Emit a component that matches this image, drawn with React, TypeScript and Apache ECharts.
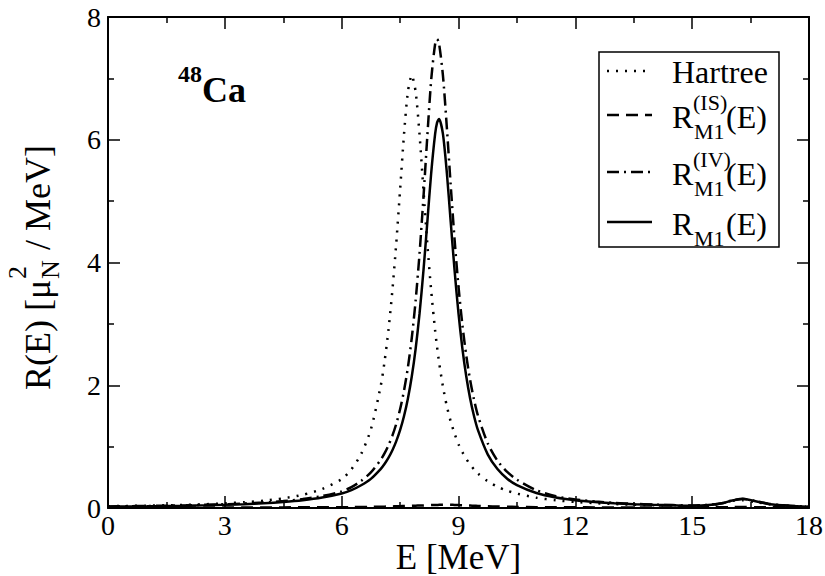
import React, { useEffect, useRef } from "react";
import * as echarts from "echarts";

// Energy grid (MeV)
const energy = [
  0, 0.5, 1, 1.5, 2, 2.5, 3, 3.5, 4, 4.5, 5, 5.5, 6, 6.25, 6.5, 6.75,
  7.0, 7.1, 7.2, 7.3, 7.4, 7.5, 7.6, 7.7, 7.8, 7.9, 8.0, 8.1, 8.2, 8.3, 8.4, 8.45,
  8.5, 8.6, 8.7, 8.8, 8.9, 9.0, 9.1, 9.2, 9.3, 9.4, 9.5, 9.75, 10, 10.25, 10.5,
  11, 11.5, 12, 12.5, 13, 13.5, 14, 14.5, 15, 15.5, 15.8, 16.0, 16.3, 16.6, 17, 17.5, 18,
];

// Hartree (dotted)
const hartree = [
  0.029, 0.033, 0.038, 0.044, 0.052, 0.062, 0.076, 0.094, 0.12, 0.158, 0.215, 0.31, 0.47, 0.63, 0.88, 1.28,
  1.98, 2.38, 2.89, 3.53, 4.3, 5.18, 6.08, 6.78, 7.05, 6.78, 6.08, 5.18, 4.3, 3.53, 2.89, 2.62,
  2.38, 1.98, 1.66, 1.41, 1.21, 1.04, 0.91, 0.8, 0.705, 0.627, 0.561, 0.435, 0.346, 0.282, 0.234,
  0.168, 0.126, 0.099, 0.079, 0.065, 0.054, 0.046, 0.039, 0.034, 0.05, 0.08, 0.115, 0.125, 0.1, 0.06, 0.035, 0.02,
];

// R_M1^(IS)(E) (dashed)
const rIS = [
  0.01, 0.01, 0.01, 0.01, 0.01, 0.01, 0.01, 0.01, 0.01, 0.01, 0.011, 0.012, 0.013, 0.014, 0.016, 0.018,
  0.02, 0.022, 0.024, 0.026, 0.028, 0.03, 0.032, 0.034, 0.036, 0.038, 0.04, 0.042, 0.045, 0.047, 0.049, 0.05,
  0.051, 0.052, 0.053, 0.052, 0.05, 0.048, 0.045, 0.042, 0.039, 0.036, 0.034, 0.028, 0.024, 0.02, 0.018,
  0.014, 0.012, 0.011, 0.01, 0.01, 0.01, 0.01, 0.01, 0.01, 0.011, 0.013, 0.015, 0.016, 0.014, 0.012, 0.01, 0.01,
];

// R_M1^(IV)(E) (dash-dot)
const rIV = [
  0.025, 0.029, 0.033, 0.038, 0.044, 0.052, 0.061, 0.074, 0.09, 0.113, 0.145, 0.195, 0.27, 0.34, 0.44, 0.58,
  0.784, 0.89, 1.019, 1.175, 1.367, 1.608, 1.91, 2.287, 2.77, 3.383, 4.147, 5.06, 6.063, 6.986, 7.56, 7.64,
  7.57, 7.05, 6.206, 5.258, 4.368, 3.605, 2.981, 2.48, 2.08, 1.761, 1.504, 1.054, 0.772, 0.588, 0.462,
  0.29, 0.19, 0.14, 0.105, 0.083, 0.068, 0.056, 0.047, 0.04, 0.055, 0.083, 0.121, 0.149, 0.117, 0.065, 0.037, 0.02,
];

// R_M1(E) (solid)
const rM1 = [
  0.022, 0.025, 0.028, 0.032, 0.037, 0.044, 0.052, 0.063, 0.077, 0.098, 0.127, 0.17, 0.235, 0.29, 0.37, 0.475,
  0.634, 0.717, 0.817, 0.938, 1.086, 1.268, 1.495, 1.781, 2.142, 2.598, 3.17, 3.866, 4.662, 5.466, 6.096, 6.28,
  6.34, 6.096, 5.466, 4.662, 3.866, 3.17, 2.598, 2.142, 1.781, 1.495, 1.268, 0.874, 0.634, 0.478, 0.373,
  0.244, 0.171, 0.127, 0.098, 0.077, 0.063, 0.052, 0.044, 0.037, 0.052, 0.08, 0.118, 0.146, 0.114, 0.062, 0.035, 0.018,
];

const FONT = "Liberation Serif";

const DOT = [2, 7];
const DASH = [12, 7];
const DASHDOT = [12, 5, 2, 5];

function pairs(arr: number[]) {
  return energy.map((e, i) => [e, arr[i]]);
}

function axisCommon(showLabels: boolean) {
  return {
    axisLine: { show: true, onZero: false, lineStyle: { color: "#000", width: 2 } },
    axisTick: { show: true, inside: true, length: 12, lineStyle: { color: "#000", width: 1.5 } },
    minorTick: { show: true, splitNumber: 2, length: 6, lineStyle: { color: "#000", width: 1.5 } },
    splitLine: { show: false },
    minorSplitLine: { show: false },
    axisLabel: {
      show: showLabels,
      color: "#000",
      fontSize: 28,
      fontFamily: FONT,
    },
  };
}

export default function App() {
  const ref = useRef<HTMLDivElement>(null);

  useEffect(() => {
    document.body.style.margin = "0";
    const chart = echarts.init(ref.current!, undefined, { renderer: "svg" });

    const lx1 = 607;
    const lx2 = 652;
    const tx = 672;
    const rows = [71, 115, 172, 222];

    const legendLine = (y: number, dash: number[] | null) => ({
      type: "line",
      shape: { x1: lx1, y1: y, x2: lx2, y2: y },
      style: { stroke: "#000", lineWidth: 2.5, lineDash: dash || undefined },
    });
    const txt = (x: number, y: number, text: string, size: number, bold = false) => ({
      type: "text",
      x,
      y,
      style: {
        text,
        fill: "#000",
        fontFamily: FONT,
        fontSize: size,
        fontWeight: bold ? "bold" : "normal",
        verticalAlign: "middle",
        align: "left",
      },
    });

    const rLabel = (y: number, sup: string | null) => {
      const els: any[] = [
        txt(tx, y + 2, "R", 32),
        txt(tx + 22, y + 16, "M1", 22),
        txt(tx + 54, y + 2, "(E)", 32),
      ];
      if (sup) els.push(txt(tx + 21, y - 13, sup, 22));
      return els;
    };

    chart.setOption({
      animation: false,
      textStyle: { fontFamily: FONT },
      grid: {
        left: 108,
        right: 16,
        top: 17,
        bottom: 68,
        containLabel: false,
        outerBoundsMode: "none",
      },
      xAxis: [
        {
          type: "value",
          min: 0,
          max: 18,
          interval: 3,
          position: "bottom",
          ...axisCommon(true),
          axisLabel: { ...axisCommon(true).axisLabel, margin: 3 },
          name: "E [MeV]",
          nameLocation: "middle",
          nameGap: 32,
          nameMoveOverlap: false,
          nameTextStyle: { color: "#000", fontSize: 35, fontFamily: FONT },
        },
        {
          type: "value",
          min: 0,
          max: 18,
          interval: 3,
          position: "top",
          ...axisCommon(false),
        },
      ],
      yAxis: [
        {
          type: "value",
          min: 0,
          max: 8,
          interval: 2,
          position: "left",
          ...axisCommon(true),
          axisLabel: { ...axisCommon(true).axisLabel, margin: 7 },
        },
        {
          type: "value",
          min: 0,
          max: 8,
          interval: 2,
          position: "right",
          ...axisCommon(false),
        },
      ],
      series: [
        {
          name: "Hartree",
          type: "line",
          data: pairs(hartree),
          showSymbol: false,
          smooth: 0.25,
          lineStyle: { color: "#000", width: 2.5, type: DOT, cap: "butt" },
        },
        {
          name: "R_M1^(IS)(E)",
          type: "line",
          data: pairs(rIS),
          showSymbol: false,
          smooth: 0.25,
          lineStyle: { color: "#000", width: 2.5, type: DASH, cap: "butt" },
        },
        {
          name: "R_M1^(IV)(E)",
          type: "line",
          data: pairs(rIV),
          showSymbol: false,
          smooth: 0.25,
          lineStyle: { color: "#000", width: 2.5, type: DASHDOT, cap: "butt" },
        },
        {
          name: "R_M1(E)",
          type: "line",
          data: pairs(rM1),
          showSymbol: false,
          smooth: 0.25,
          lineStyle: { color: "#000", width: 2.5, type: "solid" },
        },
      ],
      graphic: [
        // 48Ca annotation
        txt(178, 74, "48", 24, true),
        txt(202, 90, "Ca", 36, true),
        // y-axis title
        {
          type: "group",
          x: 38,
          y: 390,
          rotation: Math.PI / 2,
          children: [
            txt(0, 0, "R(E) [μ", 36),
            txt(111, 12, "N", 26),
            txt(111, -21, "2", 26),
            txt(131, 0, " / MeV]", 36),
          ],
        },
        // legend
        {
          type: "rect",
          shape: { x: 599, y: 52, width: 180, height: 195 },
          style: { fill: "#fff", stroke: "#000", lineWidth: 1.5 },
        },
        legendLine(rows[0], DOT),
        legendLine(rows[1], DASH),
        legendLine(rows[2], DASHDOT),
        legendLine(rows[3], null),
        txt(tx, rows[0] + 1, "Hartree", 32),
        ...rLabel(rows[1], "(IS)"),
        ...rLabel(rows[2], "(IV)"),
        ...rLabel(rows[3], null),
      ],
    });

    return () => chart.dispose();
  }, []);

  return (
    <div
      ref={ref}
      style={{ position: "absolute", left: 0, top: 0, width: 825, height: 576, background: "#fff" }}
    />
  );
}
